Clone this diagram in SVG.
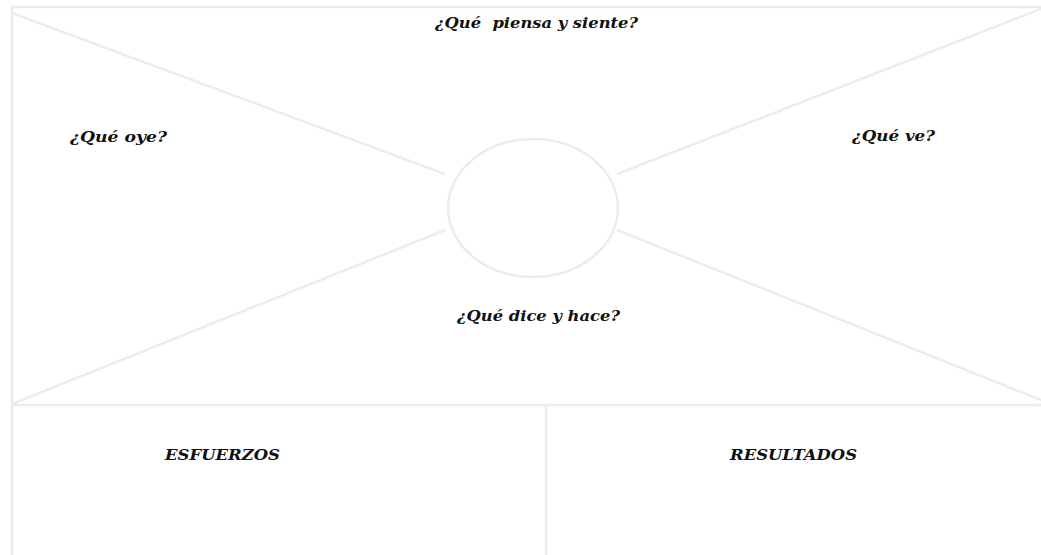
<svg xmlns="http://www.w3.org/2000/svg" width="1041" height="555" viewBox="0 0 1041 555">
<style>
.ln{stroke:#ececec;stroke-width:2.5;fill:none;stroke-linecap:butt}
.lb{font-family:"DejaVu Serif","Liberation Serif",serif;font-weight:bold;font-style:italic;font-size:15.5px;fill:#111}
</style>
<rect width="1041" height="555" fill="#fff"/>
<g id="connectors">
<line class="ln" x1="11" y1="7" x2="1041" y2="7"/>
<line class="ln" x1="12" y1="7" x2="12" y2="555"/>
<line class="ln" x1="12" y1="405" x2="1041" y2="405"/>
<line class="ln" x1="546" y1="405" x2="546" y2="555"/>
<line class="ln" x1="12" y1="13" x2="445" y2="174"/>
<line class="ln" x1="617" y1="174" x2="1041" y2="9"/>
<line class="ln" x1="12" y1="404" x2="445" y2="230"/>
<line class="ln" x1="617" y1="230" x2="1041" y2="400"/>
</g>
<g id="center">
<ellipse cx="533" cy="208" rx="85" ry="69" fill="#fff" stroke="#ececec" stroke-width="2.5"/>
</g>
<g id="piensa"><text class="lb" x="435" y="28" textLength="203" lengthAdjust="spacingAndGlyphs" xml:space="preserve">¿Qué  piensa y siente?</text></g>
<g id="oye"><text class="lb" x="70" y="142" textLength="97" lengthAdjust="spacingAndGlyphs">¿Qué oye?</text></g>
<g id="ve"><text class="lb" x="852" y="141" textLength="83" lengthAdjust="spacingAndGlyphs">¿Qué ve?</text></g>
<g id="dice"><text class="lb" x="457" y="321" textLength="163" lengthAdjust="spacingAndGlyphs">¿Qué dice y hace?</text></g>
<g id="esfuerzos"><text class="lb" x="165" y="460" textLength="115" lengthAdjust="spacingAndGlyphs">ESFUERZOS</text></g>
<g id="resultados"><text class="lb" x="730" y="460" textLength="127" lengthAdjust="spacingAndGlyphs">RESULTADOS</text></g>
</svg>
